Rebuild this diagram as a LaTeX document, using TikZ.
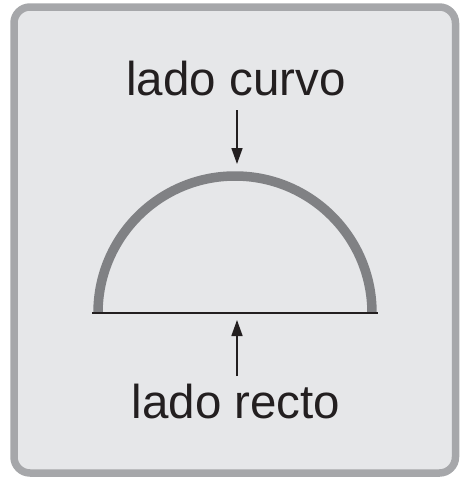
\documentclass[tikz,border=0pt]{standalone}
\usepackage{fontspec}
\setmainfont{Liberation Sans}
\usetikzlibrary{arrows.meta}
\definecolor{boxfill}{HTML}{E6E7E9}
\definecolor{boxedge}{HTML}{A6A7AA}
\definecolor{arcgray}{HTML}{808184}
\definecolor{ink}{HTML}{231F20}
\tikzset{
  lbl/.style={font=\fontsize{47.5}{50}\selectfont, text=ink, inner sep=0pt, anchor=base},
  pointer/.style={draw=ink, line width=1.6pt, -{Triangle[length=16pt,width=11pt]}}
}
\begin{document}
\begin{tikzpicture}[x=1pt,y=-1pt]
\useasboundingbox (0,0) rectangle (462,477);
\draw[boxedge, fill=boxfill, line width=7.5pt, rounded corners=16pt] (14,7) rectangle (455.5,473);
% semicircle
\draw[arcgray, line width=9.5pt] (98,313) arc[start angle=180, end angle=360, radius=137];
\coordinate (L) at (92,313);
\coordinate (R) at (378,313);
\draw[ink, line width=2.2pt] (L) -- (R);
\node[lbl] (top) at (236,95) {lado curvo};
\node[lbl] (bot) at (236,418) {lado recto};
\coordinate (tA) at (237,110);
\coordinate (tB) at (237,164);
\coordinate (bA) at (237,376);
\coordinate (bB) at (237,320);
\draw[pointer] (tA) -- (tB);
\draw[pointer] (bA) -- (bB);
\end{tikzpicture}
\end{document}
